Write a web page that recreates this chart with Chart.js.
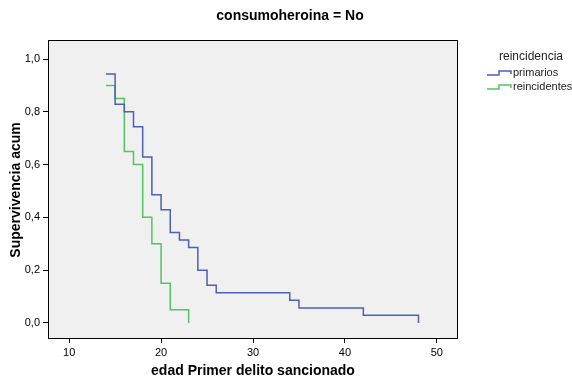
<!DOCTYPE html>
<html>
<head>
<meta charset="utf-8">
<script src="https://cdn.jsdelivr.net/npm/chart.js@4.4.1/dist/chart.umd.min.js"></script>
<style>
  html, body { margin: 0; padding: 0; background: #fff; }
  #wrap { width: 572px; height: 382px; }
</style>
</head>
<body>
<div id="wrap"><canvas id="km" width="572" height="382"></canvas></div>
<script>
// Kaplan-Meier steps
const timesPrimarios = [14, 15, 16, 17, 18, 19, 20, 21, 22, 23, 24, 25, 26, 34, 35, 42, 48];
const survPrimarios = [0.943, 0.829, 0.8, 0.743, 0.629, 0.486, 0.429, 0.343, 0.314, 0.286, 0.2, 0.143, 0.114, 0.086, 0.057, 0.029, 0];
const timesReinc = [14, 15, 16, 17, 18, 19, 20, 21, 23];
const survReinc = [0.9, 0.85, 0.65, 0.6, 0.4, 0.3, 0.15, 0.05, 0];
const xTicks = [10, 20, 30, 40, 50];
const yTicks = [0, 0.2, 0.4, 0.6, 0.8, 1.0];
const groupNames = ["primarios", "reincidentes"];
const groupColors = ["#4a62b8", "#4ec85e"];

const FONT = "'Liberation Sans', Arial, sans-serif";

const toPoints = (ts, ss) => ts.map((t, i) => ({ x: t, y: ss[i] }));

const framePlugin = {
  id: "frame",
  beforeDraw(chart) {
    const { ctx, chartArea: a } = chart;
    ctx.save();
    ctx.fillStyle = "#f0f0f0";
    ctx.fillRect(a.left, a.top, a.right - a.left, a.bottom - a.top);
    ctx.restore();
  },
  afterDraw(chart) {
    const { ctx, chartArea: a } = chart;
    ctx.save();
    ctx.strokeStyle = "#000";
    ctx.lineWidth = 1;
    ctx.strokeRect(a.left + 0.5, a.top + 0.5, a.right - a.left - 1, a.bottom - a.top);

    // title
    ctx.fillStyle = "#000";
    ctx.font = "bold 14px " + FONT;
    ctx.textAlign = "center";
    ctx.textBaseline = "middle";
    ctx.fillText("consumoheroina = No", 290, 16);

    // axis titles
    ctx.fillText("edad Primer delito sancionado", 253, 371);
    ctx.save();
    ctx.translate(16, 190);
    ctx.rotate(-Math.PI / 2);
    ctx.fillText("Supervivencia acum", 0, 0);
    ctx.restore();

    // legend
    ctx.font = "12px " + FONT;
    ctx.fillStyle = "#222";
    ctx.fillText("reincidencia", 531, 57);
    ctx.font = "11px " + FONT;
    ctx.textAlign = "left";
    groupNames.forEach((name, i) => {
      const y = 75 + i * 14;
      ctx.strokeStyle = groupColors[i];
      ctx.lineWidth = 1.5;
      ctx.beginPath();
      ctx.moveTo(487, y);
      ctx.lineTo(499, y);
      ctx.lineTo(499, y - 4);
      ctx.lineTo(511, y - 4);
      ctx.lineTo(511, y - 1);
      ctx.stroke();
      ctx.fillStyle = "#222";
      ctx.fillText(name, 513, y - 2);
    });
    ctx.restore();
  }
};

new Chart(document.getElementById("km"), {
  type: "line",
  data: {
    datasets: [
      {
        label: groupNames[0],
        data: toPoints(timesPrimarios, survPrimarios),
        borderColor: groupColors[0],
        borderWidth: 1.5,
        stepped: "before",
        pointRadius: 0,
        fill: false
      },
      {
        label: groupNames[1],
        data: toPoints(timesReinc, survReinc),
        borderColor: groupColors[1],
        borderWidth: 1.5,
        stepped: "before",
        pointRadius: 0,
        fill: false
      }
    ]
  },
  options: {
    responsive: false,
    animation: false,
    layout: { padding: { top: 40, right: 114, left: 0, bottom: 0 } },
    plugins: { legend: { display: false }, tooltip: { enabled: false } },
    scales: {
      x: {
        type: "linear",
        min: 7.7,
        max: 52.3,
        afterBuildTicks: s => { s.ticks = xTicks.map(v => ({ value: v })); },
        afterFit: s => { s.height = 44; },
        border: { display: false },
        grid: { drawOnChartArea: false, drawTicks: true, tickLength: 5, color: "#000" },
        ticks: { color: "#000", padding: 3, font: { family: FONT, size: 11 }, callback: v => String(v), maxRotation: 0 }
      },
      y: {
        type: "linear",
        min: -0.057,
        max: 1.072,
        afterBuildTicks: s => { s.ticks = yTicks.map(v => ({ value: v })); },
        afterFit: s => { s.width = 48; },
        border: { display: false },
        grid: { drawOnChartArea: false, drawTicks: true, tickLength: 5, color: "#000" },
        ticks: { color: "#000", padding: 3, font: { family: FONT, size: 11 }, callback: v => v.toFixed(1).replace(".", ",") }
      }
    }
  },
  plugins: [framePlugin]
});
</script>
</body>
</html>
